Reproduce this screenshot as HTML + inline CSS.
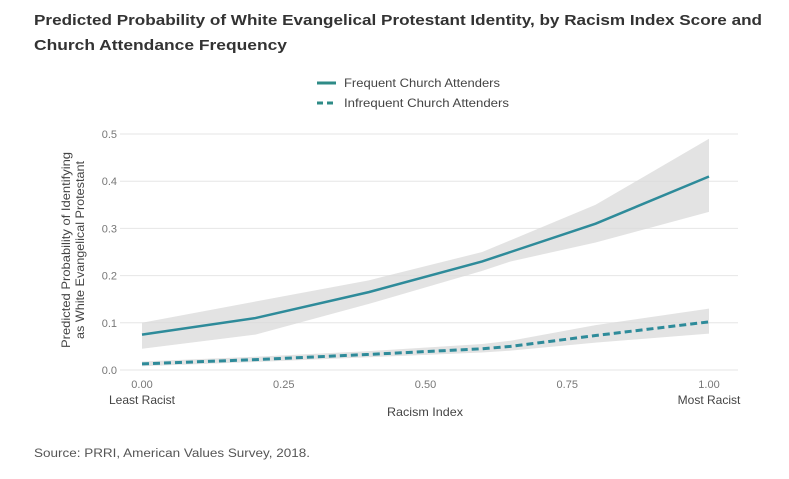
<!DOCTYPE html>
<html><head><meta charset="utf-8"><style>
body{margin:0;background:#fff;width:789px;height:474px;overflow:hidden;font-family:"Liberation Sans",sans-serif}
</style></head><body>
<svg width="789" height="474" xmlns="http://www.w3.org/2000/svg">
<text x="34" y="25" font-size="15" font-weight="bold" fill="#333" textLength="728" lengthAdjust="spacingAndGlyphs">Predicted Probability of White Evangelical Protestant Identity, by Racism Index Score and</text>
<text x="34" y="50" font-size="15" font-weight="bold" fill="#333" textLength="253" lengthAdjust="spacingAndGlyphs">Church Attendance Frequency</text>
<g>
<line x1="317" y1="83" x2="336" y2="83" stroke="#2e8b87" stroke-width="3"/>
<text x="344" y="87" font-size="12" fill="#444" textLength="156" lengthAdjust="spacingAndGlyphs">Frequent Church Attenders</text>
<line x1="317" y1="103" x2="336" y2="103" stroke="#2e8b87" stroke-width="3" stroke-dasharray="6,4"/>
<text x="344" y="107" font-size="12" fill="#444" textLength="165" lengthAdjust="spacingAndGlyphs">Infrequent Church Attenders</text>
</g>
<g id="grid"></g><g id="bands"></g><g id="lines"></g><g id="axes"></g>
<text transform="translate(72,250) rotate(-90)" text-anchor="middle" font-size="12" fill="#444"><tspan x="0" dy="-2" textLength="196" lengthAdjust="spacingAndGlyphs">Predicted Probability of Identifying</tspan><tspan x="0" dy="14" textLength="178" lengthAdjust="spacingAndGlyphs">as White Evangelical Protestant</tspan></text>
<text x="425" y="416" text-anchor="middle" font-size="12" fill="#444" textLength="76" lengthAdjust="spacingAndGlyphs">Racism Index</text>
<text x="34" y="457" font-size="11.5" fill="#555" textLength="276" lengthAdjust="spacingAndGlyphs">Source: PRRI, American Values Survey, 2018.</text>
</svg>
<script>
const xs=[0,0.2,0.4,0.6,0.65,0.8,1.0];
const freq=[0.075,0.11,0.165,0.23,0.25,0.31,0.41];
const freqLo=[0.045,0.075,0.14,0.21,0.23,0.27,0.335];
const freqHi=[0.10,0.145,0.19,0.25,0.275,0.35,0.49];
const infreq=[0.013,0.022,0.033,0.045,0.05,0.073,0.102];
const infLo=[0.008,0.017,0.027,0.037,0.041,0.058,0.077];
const infHi=[0.018,0.028,0.04,0.055,0.062,0.095,0.13];
const yTicks=[0,0.1,0.2,0.3,0.4,0.5];
const xTicks=[0,0.25,0.5,0.75,1];
const xTickLabels=["0.00","0.25","0.50","0.75","1.00"];
const NS="http://www.w3.org/2000/svg";
const X=v=>142+v*567, Y=v=>370-v*472;
function mk(t,a,p){const e=document.createElementNS(NS,t);for(const k in a)e.setAttribute(k,a[k]);document.getElementById(p).appendChild(e);return e;}
yTicks.forEach(t=>{
 const l=mk('line',{x1:120,x2:738,y1:Y(t),y2:Y(t),stroke:'#e6e6e6','stroke-width':1},'grid');
 
 
 const tx=mk('text',{x:117,y:Y(t)+4,'text-anchor':'end','font-size':11,fill:'#777'},'axes');
 tx.textContent=t.toFixed(1);
 
 
});
xTicks.forEach((t,i)=>{
 const tx=mk('text',{x:X(t),y:388,'text-anchor':'middle','font-size':11,fill:'#777'},'axes');
 tx.textContent=xTickLabels[i];
 
 
});
const a=mk('text',{x:X(0),y:404,'text-anchor':'middle','font-size':12,fill:'#444'},'axes');a.textContent='Least Racist';


const b=mk('text',{x:X(1),y:404,'text-anchor':'middle','font-size':12,fill:'#444'},'axes');b.textContent='Most Racist';


function band(lo,hi,name){
 let d=xs.map((x,i)=>(i?'L':'M')+X(x)+','+Y(hi[i])).join('')+xs.map((x,i)=>i).reverse().map(i=>'L'+X(xs[i])+','+Y(lo[i])).join('')+'Z';
 const p=mk('path',{d:d,fill:'#d9d9d9','fill-opacity':0.75},'bands');
 
 
}
band(freqLo,freqHi,'frequent-ci-band');band(infLo,infHi,'infrequent-ci-band');
function line(v,dash,name){
 const d=xs.map((x,i)=>(i?'L':'M')+X(x)+','+Y(v[i])).join('');
 const p=mk('path',{d:d,fill:'none',stroke:'#2e8b9a','stroke-width':dash?3:2.5,'stroke-dasharray':dash?'7,4':'none'},'lines');
 
 
}
line(freq,false,'frequent-line');line(infreq,true,'infrequent-line');
</script>
</body></html>
